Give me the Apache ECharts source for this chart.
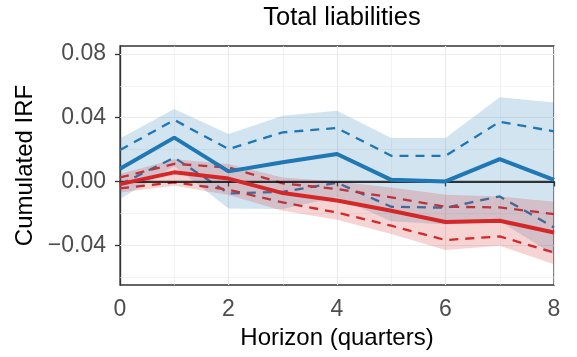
<!DOCTYPE html>
<html>
<head>
<meta charset="utf-8">
<script src="https://cdn.jsdelivr.net/npm/echarts@6/dist/echarts.min.js"></script>
<style>
  html, body { margin: 0; padding: 0; background: #fff; }
  #chart { width: 577px; height: 357px; }
</style>
</head>
<body>
<div id="chart"></div>
<script>
// horizon in quarters
const horizon = [0, 1, 2, 3, 4, 5, 6, 7, 8];

// blue response
const blueMean = [0.008, 0.0275, 0.0063, 0.012, 0.0172, 0.001, 0.0, 0.014, 0.001];
const blueUp68 = [0.0197, 0.0386, 0.0203, 0.0308, 0.0335, 0.0161, 0.0161, 0.0375, 0.0314];
const blueLo68 = [-0.002, 0.015, -0.0075, -0.0065, -0.0008, -0.0159, -0.0165, -0.0094, -0.0289];
const blueUp90 = [0.027, 0.0455, 0.0298, 0.0413, 0.0444, 0.0273, 0.0273, 0.0528, 0.0496];
const blueLo90 = [-0.011, 0.0095, -0.017, -0.0173, -0.010, -0.025, -0.027, -0.025, -0.046];

// red response
const redMean = [-0.0017, 0.0057, 0.0018, -0.0073, -0.012, -0.0184, -0.0255, -0.0247, -0.032];
const redUp68 = [0.0025, 0.011, 0.0088, -0.0012, -0.0048, -0.010, -0.0159, -0.0163, -0.0205];
const redLo68 = [-0.0044, -0.0006, -0.0052, -0.0132, -0.0195, -0.0278, -0.0368, -0.0345, -0.0446];
const redUp90 = [0.0046, 0.014, 0.011, 0.0025, 0.0, -0.0038, -0.0083, -0.0094, -0.0127];
const redLo90 = [-0.0069, -0.0027, -0.0085, -0.0184, -0.024, -0.033, -0.043, -0.0404, -0.0519];

const yTicks = [-0.04, 0, 0.04, 0.08];
const yMinor = [-0.06, -0.02, 0.02, 0.06];

const BLUE = '#1f77b4';
const RED = '#d62728';
const FONT = 'Liberation Sans, Arial, sans-serif';

const pairs = (ys) => horizon.map((x, i) => [x, ys[i]]);

// shaded interval drawn as one polygon through the axis scales
function band(lo, hi, color) {
	return {
		type: 'custom', data: [[0, 0]], silent: true, z: 3, clip: true,
		renderItem: (params, api) => {
			const top = horizon.map((x, i) => api.coord([x, hi[i]]));
			const bottom = horizon.map((x, i) => api.coord([x, lo[i]])).reverse();
			return {
				type: 'polygon',
				shape: { points: top.concat(bottom) },
				style: { fill: color, opacity: 0.2 },
			};
		},
	};
}

function line(ys, color, width, dashed) {
	return {
		type: 'line', data: pairs(ys), symbol: 'none', z: dashed ? 2 : 5,
		lineStyle: { color: color, width: width, type: dashed ? [9, 7] : 'solid' },
	};
}

const ec = echarts.init(document.getElementById('chart'), null, { renderer: 'canvas' });

const option = {
	animation: false,
	title: {
		text: 'Total liabilities',
		left: 337, top: 0, textAlign: 'center',
		textStyle: { fontFamily: FONT, fontSize: 25.5, fontWeight: 'normal', color: '#000' },
	},
	grid: {
		left: 120, right: 23, top: 46, bottom: 72,
		show: true, borderColor: '#333', borderWidth: 1.3, backgroundColor: 'transparent',
	},
	xAxis: {
		type: 'value', min: 0, max: 8, interval: 2,
		name: 'Horizon (quarters)', nameLocation: 'middle', nameGap: 40,
		nameTextStyle: { fontFamily: FONT, fontSize: 24, color: '#000' },
		axisLine: { lineStyle: { color: '#333', width: 1.3 } },
		axisTick: { length: 5, lineStyle: { color: '#333', width: 1.3 } },
		axisLabel: { margin: 13, fontFamily: FONT, fontSize: 23, color: '#4d4d4d' },
		splitLine: { show: true, lineStyle: { color: '#ebebeb', width: 1.2 } },
		minorTick: { show: false, splitNumber: 2 },
		minorSplitLine: { show: true, lineStyle: { color: '#ebebeb', width: 0.6 } },
	},
	yAxis: {
		type: 'value', min: -0.065, max: 0.085,
		name: 'Cumulated IRF', nameLocation: 'middle', nameGap: 82,
		nameTextStyle: { fontFamily: FONT, fontSize: 24, color: '#000' },
		axisLine: { show: true, lineStyle: { color: '#333', width: 1.3 } },
		axisTick: { show: true, length: 5, customValues: yTicks, lineStyle: { color: '#333', width: 1.3 } },
		axisLabel: {
			margin: 14, fontFamily: FONT, fontSize: 23, color: '#4d4d4d',
			customValues: yTicks,
			formatter: (v) => (v < 0 ? '\u2212' : '') + Math.abs(v).toFixed(2),
		},
		splitLine: { show: false },
	},
	series: [
		{
			// carrier for the horizontal grid lines
			type: 'line', data: pairs(blueMean), symbol: 'none', silent: true, z: 1,
			lineStyle: { opacity: 0 },
			markLine: {
				silent: true, symbol: 'none', z: 1, label: { show: false },
				data: yTicks.map((v) => ({ yAxis: v, lineStyle: { color: '#ebebeb', width: 1.2, type: 'solid' } }))
					.concat(yMinor.map((v) => ({ yAxis: v, lineStyle: { color: '#ebebeb', width: 0.6, type: 'solid' } }))),
			},
		},
		band(blueLo90, blueUp90, BLUE),
		band(redLo90, redUp90, RED),
		line(blueUp68, BLUE, 2.3, true),
		line(blueLo68, BLUE, 2.3, true),
		line(redUp68, RED, 2.3, true),
		line(redLo68, RED, 2.3, true),
		{
			type: 'line', data: pairs(redMean), symbol: 'none', silent: true, z: 1,
			lineStyle: { opacity: 0 },
			markLine: {
				silent: true, symbol: 'none', z: 4, label: { show: false },
				data: [{ yAxis: 0, lineStyle: { color: '#000', width: 1.6, type: 'solid' } }],
			},
		},
		line(blueMean, BLUE, 4, false),
		line(redMean, RED, 4, false),
	],
};

ec.setOption(option);
</script>
</body>
</html>
